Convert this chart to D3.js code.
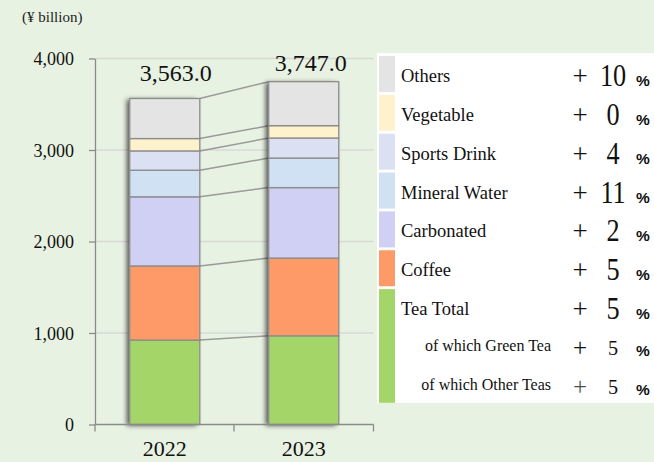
<!DOCTYPE html>
<html>
<head>
<meta charset="utf-8">
<script src="https://cdn.jsdelivr.net/npm/d3@7"></script>
<style>
  html, body { margin: 0; padding: 0; background: #e8f2e2; }
  svg { display: block; }
</style>
</head>
<body>
<svg id="chart" width="654" height="462"></svg>
<script>
// Soft drink market by category (¥ billion), stacked bottom to top
const years = ["2022", "2023"];
const categories = ["Tea Total", "Coffee", "Carbonated", "Mineral Water", "Sports Drink", "Vegetable", "Others"];
const values2022 = [923, 810, 755, 291, 211, 135, 438];
const values2023 = [969, 850, 770, 323, 219, 135, 481];
const totals = [3563.0, 3747.0];
const categoryColors = ["#a3d568", "#fd9a68", "#cfd0f4", "#cfe1f3", "#dbe0f2", "#fef2cc", "#e4e4e4"];
const yTicks = [0, 1000, 2000, 3000, 4000];

// Year-on-year change table
const legendNames = ["Others", "Vegetable", "Sports Drink", "Mineral Water", "Carbonated", "Coffee", "Tea Total", "of which Green Tea", "of which Other Teas"];
const legendChanges = [10, 0, 4, 11, 2, 5, 5, 5, 5];
const legendColors = ["#e4e4e4", "#fef2cc", "#dbe0f2", "#cfe1f3", "#cfd0f4", "#fd9a68", "#a3d568"];

const serif = "'Liberation Serif', 'Times New Roman', serif";
const sans = "'Liberation Sans', Arial, sans-serif";

const svg = d3.select("#chart");

const x = d3.scaleBand().domain(years).range([95, 373.5]).paddingInner(0.496).paddingOuter(0.25);
const y = d3.scaleLinear().domain([0, 4000]).range([424.5, 58.5]);

// shadow for the bar stacks
const defs = svg.append("defs");
const f = defs.append("filter").attr("id", "barShadow")
  .attr("x", "-30%").attr("y", "-10%").attr("width", "160%").attr("height", "120%");
f.append("feGaussianBlur").attr("in", "SourceAlpha").attr("stdDeviation", 2.6).attr("result", "b");
f.append("feOffset").attr("in", "b").attr("dx", -3).attr("dy", 1).attr("result", "o");
f.append("feComponentTransfer").attr("in", "o").attr("result", "s")
  .append("feFuncA").attr("type", "linear").attr("slope", 0.65);
const fm = f.append("feMerge");
fm.append("feMergeNode").attr("in", "s");
fm.append("feMergeNode").attr("in", "SourceGraphic");

// unit label
svg.append("text").attr("x", 22).attr("y", 22)
  .attr("font-family", serif).attr("font-size", 15).attr("fill", "#222")
  .text("(¥ billion)");

// gridlines
svg.append("g").selectAll("line").data(yTicks.filter(d => d > 0)).join("line")
  .attr("x1", 95).attr("x2", 373.5)
  .attr("y1", d => y(d)).attr("y2", d => y(d))
  .attr("stroke", "#d8d8d8").attr("stroke-width", 1.5);

// y axis
const yAxis = svg.append("g").attr("transform", "translate(95,0)")
  .call(d3.axisLeft(y).tickValues(yTicks).tickSize(6).tickSizeOuter(0).tickPadding(15).tickFormat(d3.format(",")));
yAxis.select(".domain").attr("stroke", "#8a8a8a").attr("stroke-width", 1.3);
yAxis.selectAll(".tick line").attr("stroke", "#8a8a8a").attr("stroke-width", 1.3);
yAxis.selectAll(".tick text").attr("font-family", serif).attr("font-size", 18).attr("fill", "#111").attr("dy", "0.35em");

// stacked series
const stackData = years.map((yr, i) => {
  const vals = i === 0 ? values2022 : values2023;
  let acc = 0;
  return vals.map((v, k) => {
    const seg = { year: yr, cat: categories[k], y0: acc, y1: acc + v, color: categoryColors[k] };
    acc += v;
    return seg;
  });
});

// connector lines between the two stacks
const bw = x.bandwidth();
const bounds2022 = stackData[0].map(d => d.y1);
const bounds2023 = stackData[1].map(d => d.y1);
svg.append("g").selectAll("line").data(bounds2022.map((v, i) => [v, bounds2023[i]])).join("line")
  .attr("x1", x(years[0]) + bw).attr("x2", x(years[1]))
  .attr("y1", d => y(d[0])).attr("y2", d => y(d[1]))
  .attr("stroke", "#9a9a9a").attr("stroke-width", 1.5);

// bars
stackData.forEach((segs, i) => {
  const g = svg.append("g");
  g.append("rect")
    .attr("x", x(years[i])).attr("width", bw)
    .attr("y", y(totals[i])).attr("height", y(0) - y(totals[i]))
    .attr("fill", "#ffffff").attr("filter", "url(#barShadow)");
  g.selectAll("rect.seg").data(segs).join("rect").attr("class", "seg")
    .attr("x", d => x(d.year)).attr("width", bw)
    .attr("y", d => y(d.y1)).attr("height", d => y(d.y0) - y(d.y1))
    .attr("fill", d => d.color)
    .attr("stroke", "#8c8c8c").attr("stroke-width", 1.3);
});

// totals, set slightly right of each stack
const totalDx = [11, 7];
const totalDy = [-17, -11];
svg.append("g").selectAll("text").data(totals).join("text")
  .attr("x", (d, i) => x(years[i]) + bw / 2 + totalDx[i])
  .attr("y", (d, i) => y(d) + totalDy[i])
  .attr("text-anchor", "middle")
  .attr("font-family", serif).attr("font-size", 24).attr("fill", "#111")
  .text(d => d3.format(",.1f")(d));

// x axis
const base = y(0);
svg.append("line").attr("x1", 95).attr("x2", 373.5).attr("y1", base).attr("y2", base)
  .attr("stroke", "#8a8a8a").attr("stroke-width", 1.3);
const edges = [x.range()[0], x.range()[0] + x.step(), x.range()[1]];
svg.append("g").selectAll("line").data(edges).join("line")
  .attr("x1", d => d).attr("x2", d => d).attr("y1", base).attr("y2", base + 7)
  .attr("stroke", "#8a8a8a").attr("stroke-width", 1.3);
svg.append("g").selectAll("text").data(years).join("text")
  .attr("x", d => x(d) + bw / 2).attr("y", 456)
  .attr("text-anchor", "middle")
  .attr("font-family", serif).attr("font-size", 22).attr("fill", "#111")
  .text(d => d);

// change table
const lg = svg.append("g");
lg.append("rect").attr("x", 377).attr("y", 53).attr("width", 277).attr("height", 350).attr("fill", "#ffffff");
const pitch = 38.85, top0 = 56, sw = 36;
// swatches: tea spans its three rows
legendColors.forEach((c, i) => {
  const rows = i === 6 ? 3 : 1;
  lg.append("rect").attr("x", 379).attr("y", top0 + i * pitch)
    .attr("width", 16).attr("height", rows * pitch - (pitch - sw))
    .attr("fill", c);
});
legendNames.forEach((name, i) => {
  const cy = top0 + i * pitch + sw / 2;
  const sub = i >= 7;
  if (sub) {
    lg.append("text").attr("x", 551).attr("y", cy + 5).attr("text-anchor", "end")
      .attr("font-family", serif).attr("font-size", 16).attr("fill", "#111").text(name);
  } else {
    lg.append("text").attr("x", 401).attr("y", cy + 8)
      .attr("font-family", serif).attr("font-size", 18.5).attr("fill", "#111").text(name);
  }
  lg.append("text").attr("x", 580).attr("y", cy + (sub ? 10 : 11))
    .attr("text-anchor", "middle")
    .attr("font-family", serif).attr("font-size", sub ? 25 : 27).attr("fill", "#111")
    .attr("fill-opacity", i === 8 ? 0.75 : 1)
    .text("+");
  lg.append("text")
    .attr("transform", sub ? `translate(613,${cy + 9}) scale(0.92,1)` : `translate(613,${cy + 12}) scale(0.82,1)`)
    .attr("text-anchor", "middle")
    .attr("font-family", serif).attr("font-size", sub ? 22 : 32).attr("fill", "#111")
    .text(legendChanges[i]);
  lg.append("text").attr("x", 636).attr("y", cy + (sub ? 10 : 12))
    .attr("font-family", sans).attr("font-size", 15.5).attr("font-weight", 600).attr("fill", "#111")
    .text("%");
});
</script>
</body>
</html>
